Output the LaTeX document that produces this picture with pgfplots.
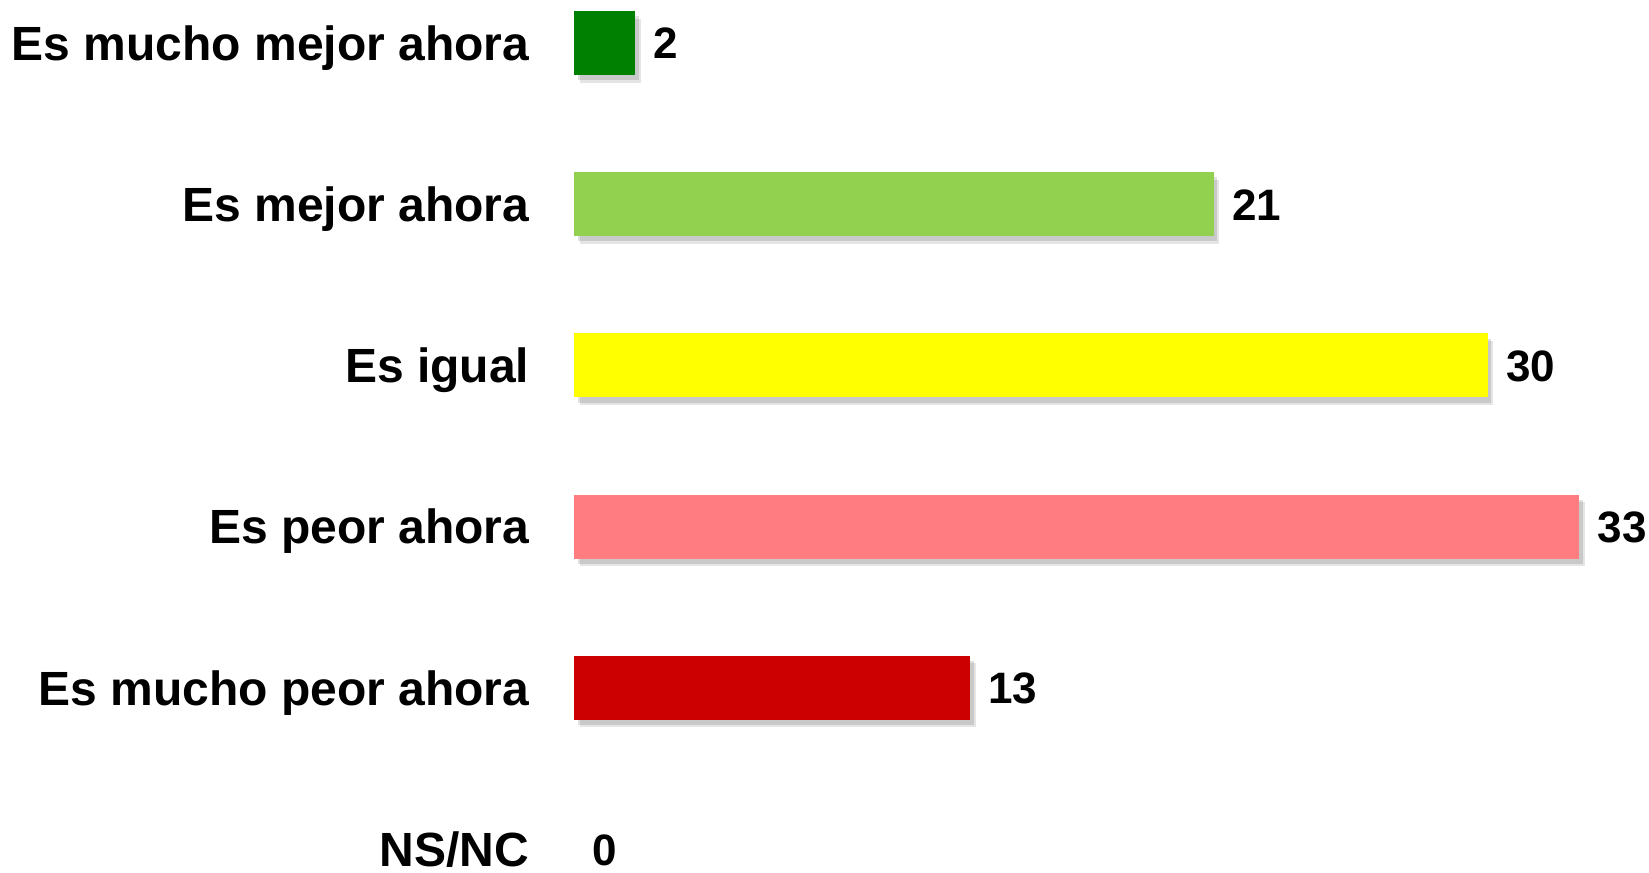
\documentclass[border=0pt]{standalone}
\usepackage{fontspec}
\setmainfont{Liberation Sans}
\usepackage{pgfplots}
\pgfplotsset{compat=1.18}

\definecolor{verdeOsc}{HTML}{008000}
\definecolor{verdeCla}{HTML}{92D050}
\definecolor{amarillo}{HTML}{FFFF00}
\definecolor{rosa}{HTML}{FF7C80}
\definecolor{rojo}{HTML}{CC0000}

\begin{document}
\begin{tikzpicture}
  \begin{axis}[
      at={(0,0)}, anchor=north west,
      scale only axis,
      width=251.3pt, height=201.5pt,
      xmin=0, xmax=33, ymin=0, ymax=5,
      y dir=reverse,
      xbar, bar width=16pt, bar shift=0pt,
      axis line style={draw=none},
      major tick length=0pt,
      xtick=\empty,
      ytick={0,1,2,3,4,5},
      yticklabels={Es mucho mejor ahora, Es mejor ahora, Es igual,
                   Es peor ahora, Es mucho peor ahora, NS/NC},
      yticklabel style={font=\fontsize{12}{14}\selectfont\bfseries,
                        anchor=base east, inner sep=0pt, xshift=-11pt, yshift=-4.3pt},
      clip=false,
      nodes near coords,
      nodes near coords style={font=\fontsize{11}{13}\selectfont\bfseries,
                               anchor=base west, inner sep=0pt, xshift=4.4pt, yshift=-4pt,
                               /pgf/number format/assume math mode=true},
      every axis plot/.append style={draw=none},
      bshadow/.style={preaction={fill=black, fill opacity=0.12,
                      transform canvas={xshift=0.9pt, yshift=-1.3pt}},
                      preaction={fill=black, fill opacity=0.10,
                      transform canvas={xshift=1.4pt, yshift=-1.9pt}}},
    ]
    \addplot[fill=verdeOsc, bshadow] coordinates {(2,0)};
    \addplot[fill=verdeCla, bshadow] coordinates {(21,1)};
    \addplot[fill=amarillo, bshadow] coordinates {(30,2)};
    \addplot[fill=rosa, bshadow] coordinates {(33,3)};
    \addplot[fill=rojo, bshadow] coordinates {(13,4)};
    \addplot[fill=none] coordinates {(0,5)};
  \end{axis}
  \pgfresetboundingbox
  \useasboundingbox (-143.5pt,10.75pt) rectangle (268.75pt,-207.5pt);
\end{tikzpicture}
\end{document}
